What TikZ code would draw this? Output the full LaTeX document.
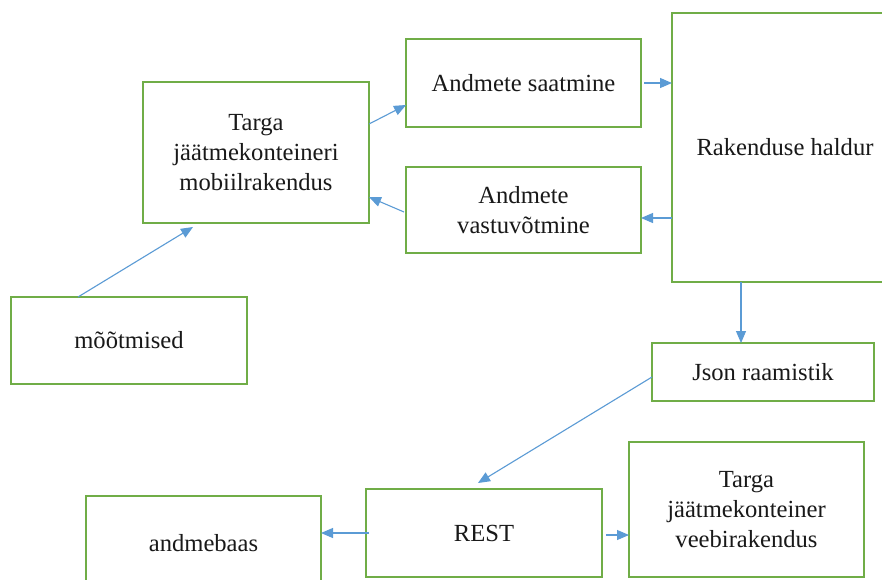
\documentclass[tikz,border=0pt]{standalone}
\usepackage{fontspec}
\setmainfont{LiberationSerif}[Extension=.ttf,UprightFont=*-Regular,BoldFont=*-Bold]
\usetikzlibrary{arrows.meta}
\definecolor{boxgreen}{RGB}{112,173,71}
\definecolor{linkblue}{RGB}{91,155,213}
\begin{document}
\begin{tikzpicture}[x=1pt,y=-1pt,
  box/.style={draw=boxgreen,line width=2.8pt,rectangle,inner sep=0pt,outer sep=0pt,
    align=center,font=\fontsize{24.6}{30}\selectfont,text=black!90},
  link/.style={draw=linkblue,line width=1.1pt,-{Triangle[length=12pt,width=10pt]}}]
\useasboundingbox (0,0) rectangle (882,579);
\clip (0,0) rectangle (882,579);
\fill[white] (0,0) rectangle (882,579);

% boxes
\node[box,minimum width=226pt,minimum height=141pt] (mob) at (256,152.5) {Targa\\jäätmekonteineri\\mobiilrakendus};
\node[box,minimum width=235pt,minimum height=88pt] (sa) at (523.5,83) {Andmete saatmine};
\node[box,minimum width=235pt,minimum height=86pt] (va) at (523.5,210) {Andmete\\vastuvõtmine};
\node[box,minimum width=226pt,minimum height=269pt] (hal) at (785,147.5) {Rakenduse haldur};
\node[box,minimum width=236pt,minimum height=87pt] (mo) at (129,340.5) {mõõtmised};
\node[box,minimum width=222pt,minimum height=58pt] (js) at (763,372) {Json raamistik};
\node[box,minimum width=235pt,minimum height=135pt] (vb) at (746.5,509.5) {Targa\\jäätmekonteiner\\veebirakendus};
\node[box,minimum width=236pt,minimum height=88pt] (re) at (484,533) {REST};
\node[box,minimum width=235pt,minimum height=94pt] (ab) at (203.5,543) {andmebaas};

% connectors
\draw[link] ([xshift=67pt]mo.north west) -- ([xshift=50pt,yshift=-4pt]mob.south west);
\draw[link] ([yshift=-42pt]mob.north east) -- ([yshift=-66pt]sa.north west);
\draw[link] ([xshift=3pt]sa.east) -- (sa.east -| hal.west);
\coordinate (vr) at ([yshift=-8pt]va.east);
\draw[link] (vr -| hal.west) -- (vr);
\draw[link] ([xshift=-2pt,yshift=-2pt]va.west) -- ([yshift=-44.5pt]mob.east);
\coordinate (hj) at ([xshift=-22pt]js.north);
\draw[link] (hj |- hal.south) -- (hj);
\draw[link] ([yshift=-5pt]js.west) -- ([xshift=-6pt,yshift=6pt]re.north);
\coordinate (rv) at ([xshift=4pt,yshift=-2pt]re.east);
\draw[link] (rv) -- (rv -| vb.west);
\draw[link] ([xshift=3pt]re.west) -- (re.west -| ab.east);
\end{tikzpicture}
\end{document}
